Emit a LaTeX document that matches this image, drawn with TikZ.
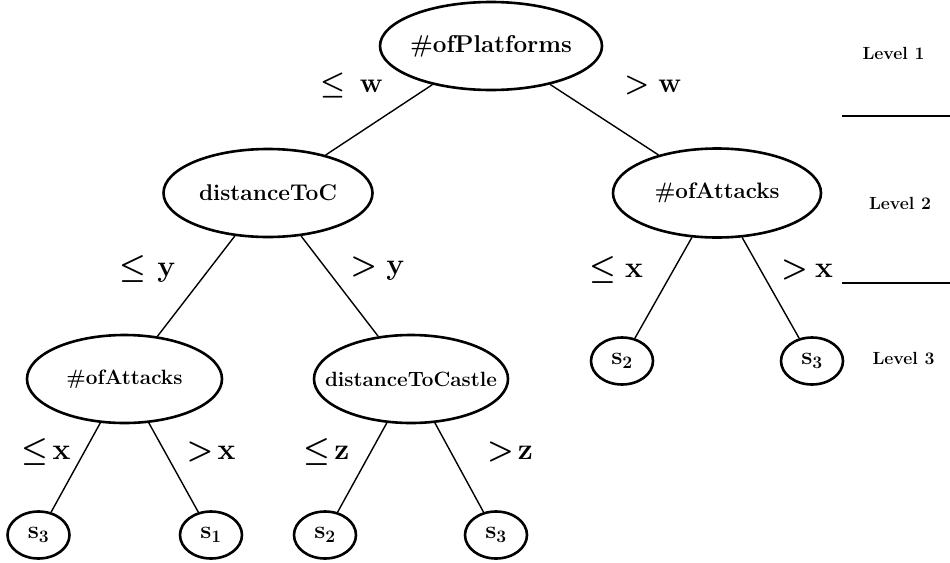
\RequirePackage{fix-cm}
\documentclass[tikz,border=0pt]{standalone}
\usepackage{graphicx}
\usepackage{fontspec}
\setmainfont{Latin Modern Roman}
\usetikzlibrary{shapes.geometric}

\tikzset{
  tnode/.style={ellipse, draw, line width=2.6pt, inner sep=0pt,
    font=\fontsize{20}{24}\selectfont\bfseries},
  leaf/.style={tnode, minimum width=62pt, minimum height=47pt,
    font=\fontsize{25}{28}\selectfont\boldmath},
  branch/.style={line width=1.4pt},
  cond/.style={inner sep=0pt, font=\boldmath},
  levelname/.style={inner sep=0pt, font=\fontsize{17.6}{20}\selectfont\bfseries},
  levelrule/.style={line width=1.4pt},
}
% node text stretched to a given printed width, kept out of the shape size
\newcommand\wtext[2]{\makebox[0pt]{\resizebox{#1}{!}{#2}}}
% condition label: relation, gap, bold variable
\newcommand\condlbl[4]{\fontsize{#1}{#1}\selectfont$#2$\hspace{#3}$\mathbf{#4}$}

\begin{document}
\begin{tikzpicture}[x=1pt,y=-1pt]
\useasboundingbox (0,0) rectangle (950,562);

% decision nodes
\node[tnode, minimum width=222pt, minimum height=88pt] (root) at (491,46)
  {\wtext{162pt}{\#ofPlatforms}};
\node[tnode, minimum width=209pt, minimum height=88pt] (dtc) at (268,193)
  {\wtext{138pt}{distanceToC}};
\node[tnode, minimum width=208pt, minimum height=89pt] (atkR) at (717,193)
  {\wtext{125pt}{\#ofAttacks}};
\node[tnode, minimum width=195pt, minimum height=88pt] (atkL) at (124.5,379)
  {\wtext{116pt}{\#ofAttacks}};
\node[tnode, minimum width=194pt, minimum height=88pt] (dcas) at (411,379)
  {\wtext{172pt}{distanceToCastle}};

% leaves
\node[leaf] (s3a) at (38.5,535) {$\mathbf{s}_3$};
\node[leaf] (s1)  at (211,535)  {$\mathbf{s}_1$};
\node[leaf] (s2a) at (325,535)  {$\mathbf{s}_2$};
\node[leaf] (s3b) at (496,535)  {$\mathbf{s}_3$};
\node[leaf] (s2b) at (622,361)  {$\mathbf{s}_2$};
\node[leaf] (s3c) at (812,361)  {$\mathbf{s}_3$};

% branches
\draw[branch] (root) -- (dtc);
\draw[branch] (root) -- (atkR);
\draw[branch] (dtc) -- (atkL);
\draw[branch] (dtc) -- (dcas);
\draw[branch] (atkR) -- (s2b);
\draw[branch] (atkR) -- (s3c);
\draw[branch] (atkL) -- (s3a);
\draw[branch] (atkL) -- (s1);
\draw[branch] (dcas) -- (s2a);
\draw[branch] (dcas) -- (s3b);

% branch conditions
\node[cond] (cw1) at (352,85)   {\condlbl{28}{\leq}{14pt}{w}};
\node[cond] (cw2) at (653,85)   {\condlbl{28}{>}{9pt}{w}};
\node[cond] (cy1) at (147.5,269) {\condlbl{30}{\leq}{11pt}{y}};
\node[cond] (cy2) at (377.5,269) {\condlbl{30}{>}{9pt}{y}};
\node[cond] (cx1) at (616,270)  {\condlbl{30}{\leq}{9pt}{x}};
\node[cond] (cx2) at (807,270)  {\condlbl{30}{>}{7pt}{x}};
\node[cond] (cx3) at (46,452)   {\condlbl{30}{\leq}{4pt}{x}};
\node[cond] (cx4) at (211,452)  {\condlbl{30}{>}{4pt}{x}};
\node[cond] (cz1) at (326.5,452) {\condlbl{30}{\leq}{4pt}{z}};
\node[cond] (cz2) at (510,452)  {\condlbl{30}{>}{4pt}{z}};

% level names and separators
\node[levelname] (lv1) at (893.5,53) {Level 1};
\node[levelname] (lv2) at (900,203)  {Level 2};
\node[levelname] (lv3) at (903.5,358) {Level 3};
\coordinate (sepAl) at (842,116);
\coordinate (sepAr) at (950,116);
\coordinate (sepBl) at (842,283);
\coordinate (sepBr) at (950,283);
\draw[levelrule] (sepAl) -- (sepAr);
\draw[levelrule] (sepBl) -- (sepBr);
\end{tikzpicture}
\end{document}
